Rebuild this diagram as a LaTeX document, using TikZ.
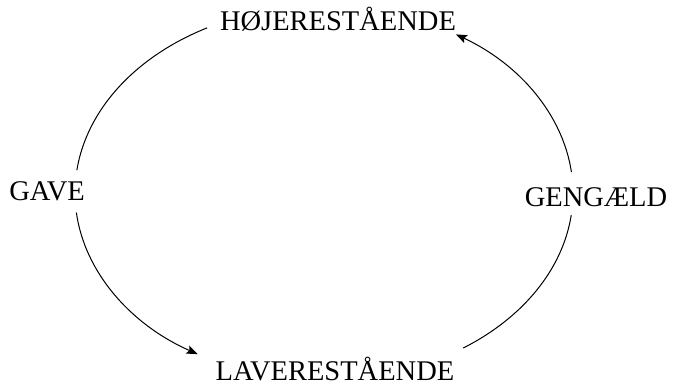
\documentclass[tikz,border=0pt]{standalone}
\usepackage{fontspec}
\setmainfont{Liberation Serif}
\usetikzlibrary{arrows.meta,calc}
\begin{document}
\begin{tikzpicture}[x=1pt,y=1pt,
  lbl/.style={inner sep=0pt,anchor=base,font=\fontsize{28.5}{30}\selectfont},
  arcline/.style={line width=1pt,black},
  tip/.style={-{Stealth[length=11pt,width=8.5pt,inset=2pt]}}]
\useasboundingbox (0,0) rectangle (675,387);
\node[lbl] (hoj) at (338,356) {HØJERESTÅENDE};
\node[lbl] (lav) at (335,6.5) {LAVERESTÅENDE};
\node[lbl] (gave) at (47,186) {GAVE};
\node[lbl] (gen) at (596,180) {GENGÆLD};
\coordinate (o) at (324,194);
\coordinate (a1) at ($(o)+(118:249 and 187)$);
\coordinate (a2) at ($(o)+(186:249 and 187)$);
\coordinate (a3) at ($(o)+(-56:249 and 187)$);
\coordinate (a4) at ($(o)+(6.4:249 and 187)$);
\draw[arcline] (a1) arc[start angle=118,end angle=173,x radius=249,y radius=187];
\draw[arcline,tip] (a2) arc[start angle=186,end angle=239.5,x radius=249,y radius=187];
\draw[arcline] (a3) arc[start angle=-56,end angle=-6.8,x radius=249,y radius=187];
\draw[arcline,tip] (a4) arc[start angle=6.4,end angle=58,x radius=249,y radius=187];
\end{tikzpicture}
\end{document}
